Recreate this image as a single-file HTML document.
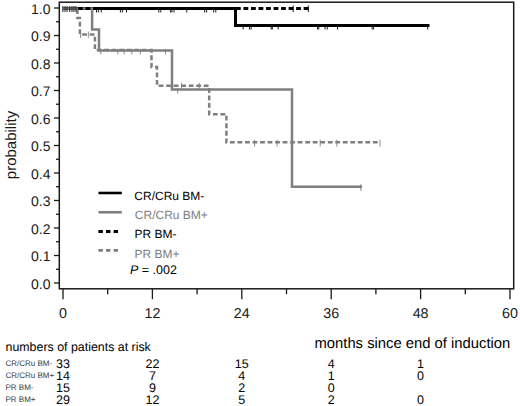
<!DOCTYPE html><html><head><meta charset="utf-8"><style>html,body{margin:0;padding:0;background:#fff;}svg{display:block;}text{font-family:"Liberation Sans",sans-serif;text-rendering:geometricPrecision;}</style></head><body>
<svg width="520" height="406" viewBox="0 0 520 406">
<rect x="59.3" y="2.2" width="454.4" height="286.6" fill="none" stroke="#1a1a1a" stroke-width="1.5"/>
<line x1="54" y1="283.00" x2="59.5" y2="283.00" stroke="#1a1a1a" stroke-width="1.3"/>
<text x="50.5" y="288.50" font-size="14" text-anchor="end" fill="#1a1a1a">0.0</text>
<line x1="54" y1="255.50" x2="59.5" y2="255.50" stroke="#1a1a1a" stroke-width="1.3"/>
<text x="50.5" y="261.00" font-size="14" text-anchor="end" fill="#1a1a1a">0.1</text>
<line x1="54" y1="228.00" x2="59.5" y2="228.00" stroke="#1a1a1a" stroke-width="1.3"/>
<text x="50.5" y="233.50" font-size="14" text-anchor="end" fill="#1a1a1a">0.2</text>
<line x1="54" y1="200.50" x2="59.5" y2="200.50" stroke="#1a1a1a" stroke-width="1.3"/>
<text x="50.5" y="206.00" font-size="14" text-anchor="end" fill="#1a1a1a">0.3</text>
<line x1="54" y1="173.00" x2="59.5" y2="173.00" stroke="#1a1a1a" stroke-width="1.3"/>
<text x="50.5" y="178.50" font-size="14" text-anchor="end" fill="#1a1a1a">0.4</text>
<line x1="54" y1="145.50" x2="59.5" y2="145.50" stroke="#1a1a1a" stroke-width="1.3"/>
<text x="50.5" y="151.00" font-size="14" text-anchor="end" fill="#1a1a1a">0.5</text>
<line x1="54" y1="118.00" x2="59.5" y2="118.00" stroke="#1a1a1a" stroke-width="1.3"/>
<text x="50.5" y="123.50" font-size="14" text-anchor="end" fill="#1a1a1a">0.6</text>
<line x1="54" y1="90.50" x2="59.5" y2="90.50" stroke="#1a1a1a" stroke-width="1.3"/>
<text x="50.5" y="96.00" font-size="14" text-anchor="end" fill="#1a1a1a">0.7</text>
<line x1="54" y1="63.00" x2="59.5" y2="63.00" stroke="#1a1a1a" stroke-width="1.3"/>
<text x="50.5" y="68.50" font-size="14" text-anchor="end" fill="#1a1a1a">0.8</text>
<line x1="54" y1="35.50" x2="59.5" y2="35.50" stroke="#1a1a1a" stroke-width="1.3"/>
<text x="50.5" y="41.00" font-size="14" text-anchor="end" fill="#1a1a1a">0.9</text>
<line x1="54" y1="8.00" x2="59.5" y2="8.00" stroke="#1a1a1a" stroke-width="1.3"/>
<text x="50.5" y="13.50" font-size="14" text-anchor="end" fill="#1a1a1a">1.0</text>
<line x1="56" y1="269.25" x2="59.5" y2="269.25" stroke="#1a1a1a" stroke-width="1.3"/>
<line x1="56" y1="241.75" x2="59.5" y2="241.75" stroke="#1a1a1a" stroke-width="1.3"/>
<line x1="56" y1="214.25" x2="59.5" y2="214.25" stroke="#1a1a1a" stroke-width="1.3"/>
<line x1="56" y1="186.75" x2="59.5" y2="186.75" stroke="#1a1a1a" stroke-width="1.3"/>
<line x1="56" y1="159.25" x2="59.5" y2="159.25" stroke="#1a1a1a" stroke-width="1.3"/>
<line x1="56" y1="131.75" x2="59.5" y2="131.75" stroke="#1a1a1a" stroke-width="1.3"/>
<line x1="56" y1="104.25" x2="59.5" y2="104.25" stroke="#1a1a1a" stroke-width="1.3"/>
<line x1="56" y1="76.75" x2="59.5" y2="76.75" stroke="#1a1a1a" stroke-width="1.3"/>
<line x1="56" y1="49.25" x2="59.5" y2="49.25" stroke="#1a1a1a" stroke-width="1.3"/>
<line x1="56" y1="21.75" x2="59.5" y2="21.75" stroke="#1a1a1a" stroke-width="1.3"/>
<line x1="63.00" y1="289" x2="63.00" y2="299.2" stroke="#1a1a1a" stroke-width="1.3"/>
<text x="63.00" y="318" font-size="14.3" text-anchor="middle" fill="#1a1a1a">0</text>
<line x1="152.40" y1="289" x2="152.40" y2="299.2" stroke="#1a1a1a" stroke-width="1.3"/>
<text x="152.40" y="318" font-size="14.3" text-anchor="middle" fill="#1a1a1a">12</text>
<line x1="241.80" y1="289" x2="241.80" y2="299.2" stroke="#1a1a1a" stroke-width="1.3"/>
<text x="241.80" y="318" font-size="14.3" text-anchor="middle" fill="#1a1a1a">24</text>
<line x1="331.20" y1="289" x2="331.20" y2="299.2" stroke="#1a1a1a" stroke-width="1.3"/>
<text x="331.20" y="318" font-size="14.3" text-anchor="middle" fill="#1a1a1a">36</text>
<line x1="420.60" y1="289" x2="420.60" y2="299.2" stroke="#1a1a1a" stroke-width="1.3"/>
<text x="420.60" y="318" font-size="14.3" text-anchor="middle" fill="#1a1a1a">48</text>
<line x1="510.00" y1="289" x2="510.00" y2="299.2" stroke="#1a1a1a" stroke-width="1.3"/>
<text x="510.00" y="318" font-size="14.3" text-anchor="middle" fill="#1a1a1a">60</text>
<line x1="107.70" y1="289" x2="107.70" y2="294.2" stroke="#1a1a1a" stroke-width="1.3"/>
<line x1="197.10" y1="289" x2="197.10" y2="294.2" stroke="#1a1a1a" stroke-width="1.3"/>
<line x1="286.50" y1="289" x2="286.50" y2="294.2" stroke="#1a1a1a" stroke-width="1.3"/>
<line x1="375.90" y1="289" x2="375.90" y2="294.2" stroke="#1a1a1a" stroke-width="1.3"/>
<line x1="465.30" y1="289" x2="465.30" y2="294.2" stroke="#1a1a1a" stroke-width="1.3"/>
<text transform="translate(15.5,145) rotate(-90)" font-size="15" text-anchor="middle" fill="#1a1a1a">probability</text>
<path d="M63,8.5 H235.5 V25.5 H429.5" fill="none" stroke="#000" stroke-width="3"/>
<path d="M63,8.5 H92.1 V29.5 H99 V50.4 H172 V89.5 H292 V186.8 H362" fill="none" stroke="#7f7f7f" stroke-width="2.5"/>
<path d="M63,8.5 H309" fill="none" stroke="#000" stroke-width="3" stroke-dasharray="4.8,2.72"/>
<path d="M63,8.5 H77.4 V18 H79.9 V34.5 H94.9 V50 H151.5 V67 H157 V85.8 H209.2 V114.3 H226.4 V142.3 H380" fill="none" stroke="#7f7f7f" stroke-width="2.5" stroke-dasharray="4.8,2.72"/>
<line x1="62.8" y1="6.0" x2="62.8" y2="12.0" stroke="#333" stroke-width="1.1"/>
<line x1="65" y1="6.0" x2="65" y2="12.0" stroke="#333" stroke-width="1.1"/>
<line x1="67" y1="6.0" x2="67" y2="12.0" stroke="#333" stroke-width="1.1"/>
<line x1="69.7" y1="6.0" x2="69.7" y2="12.0" stroke="#333" stroke-width="1.1"/>
<line x1="72" y1="6.0" x2="72" y2="12.0" stroke="#333" stroke-width="1.1"/>
<line x1="74" y1="6.0" x2="74" y2="12.0" stroke="#333" stroke-width="1.1"/>
<line x1="76" y1="6.0" x2="76" y2="12.0" stroke="#333" stroke-width="1.1"/>
<line x1="96.5" y1="7.0" x2="96.5" y2="12.5" stroke="#000" stroke-width="0.9"/>
<line x1="98.4" y1="7.0" x2="98.4" y2="12.5" stroke="#000" stroke-width="0.9"/>
<line x1="101.2" y1="7.0" x2="101.2" y2="12.5" stroke="#000" stroke-width="0.9"/>
<line x1="120.4" y1="7.0" x2="120.4" y2="12.5" stroke="#000" stroke-width="0.9"/>
<line x1="122.4" y1="7.0" x2="122.4" y2="12.5" stroke="#000" stroke-width="0.9"/>
<line x1="126.5" y1="7.0" x2="126.5" y2="12.5" stroke="#000" stroke-width="0.9"/>
<line x1="158.8" y1="7.0" x2="158.8" y2="12.5" stroke="#000" stroke-width="0.9"/>
<line x1="160.8" y1="7.0" x2="160.8" y2="12.5" stroke="#000" stroke-width="0.9"/>
<line x1="170.4" y1="7.0" x2="170.4" y2="12.5" stroke="#000" stroke-width="0.9"/>
<line x1="171.9" y1="7.0" x2="171.9" y2="12.5" stroke="#000" stroke-width="0.9"/>
<line x1="174" y1="7.0" x2="174" y2="12.5" stroke="#000" stroke-width="0.9"/>
<line x1="186.8" y1="7.0" x2="186.8" y2="12.5" stroke="#000" stroke-width="0.9"/>
<line x1="204.7" y1="7.0" x2="204.7" y2="12.5" stroke="#000" stroke-width="0.9"/>
<line x1="206.6" y1="7.0" x2="206.6" y2="12.5" stroke="#000" stroke-width="0.9"/>
<line x1="213.7" y1="7.0" x2="213.7" y2="12.5" stroke="#000" stroke-width="0.9"/>
<line x1="215.8" y1="7.0" x2="215.8" y2="12.5" stroke="#000" stroke-width="0.9"/>
<line x1="293.2" y1="5.5" x2="293.2" y2="12.0" stroke="#000" stroke-width="0.9"/>
<line x1="308.3" y1="5.5" x2="308.3" y2="12.0" stroke="#000" stroke-width="0.9"/>
<line x1="243.1" y1="24.0" x2="243.1" y2="29.5" stroke="#000" stroke-width="0.9"/>
<line x1="249.5" y1="24.0" x2="249.5" y2="29.5" stroke="#000" stroke-width="0.9"/>
<line x1="251.1" y1="24.0" x2="251.1" y2="29.5" stroke="#000" stroke-width="0.9"/>
<line x1="271.2" y1="24.0" x2="271.2" y2="29.5" stroke="#000" stroke-width="0.9"/>
<line x1="272.3" y1="24.0" x2="272.3" y2="29.5" stroke="#000" stroke-width="0.9"/>
<line x1="278.2" y1="24.0" x2="278.2" y2="29.5" stroke="#000" stroke-width="0.9"/>
<line x1="317.5" y1="24.0" x2="317.5" y2="29.5" stroke="#000" stroke-width="0.9"/>
<line x1="318.8" y1="24.0" x2="318.8" y2="29.5" stroke="#000" stroke-width="0.9"/>
<line x1="325.1" y1="24.0" x2="325.1" y2="29.5" stroke="#000" stroke-width="0.9"/>
<line x1="327.3" y1="24.0" x2="327.3" y2="29.5" stroke="#000" stroke-width="0.9"/>
<line x1="337.5" y1="24.0" x2="337.5" y2="29.5" stroke="#000" stroke-width="0.9"/>
<line x1="372.1" y1="24.0" x2="372.1" y2="29.5" stroke="#000" stroke-width="0.9"/>
<line x1="373.6" y1="24.0" x2="373.6" y2="29.5" stroke="#000" stroke-width="0.9"/>
<line x1="427.7" y1="24.0" x2="427.7" y2="29.5" stroke="#000" stroke-width="0.9"/>
<line x1="100.8" y1="48.9" x2="100.8" y2="54.4" stroke="#7f7f7f" stroke-width="0.9"/>
<line x1="117.8" y1="48.9" x2="117.8" y2="54.4" stroke="#7f7f7f" stroke-width="0.9"/>
<line x1="124.2" y1="48.9" x2="124.2" y2="54.4" stroke="#7f7f7f" stroke-width="0.9"/>
<line x1="131.9" y1="48.9" x2="131.9" y2="54.4" stroke="#7f7f7f" stroke-width="0.9"/>
<line x1="140.4" y1="48.9" x2="140.4" y2="54.4" stroke="#7f7f7f" stroke-width="0.9"/>
<line x1="165.5" y1="48.9" x2="165.5" y2="54.4" stroke="#7f7f7f" stroke-width="0.9"/>
<line x1="80.6" y1="31.5" x2="80.6" y2="38.0" stroke="#7f7f7f" stroke-width="0.9"/>
<line x1="88.3" y1="31.5" x2="88.3" y2="38.0" stroke="#7f7f7f" stroke-width="0.9"/>
<line x1="171.5" y1="82.8" x2="171.5" y2="88.8" stroke="#7f7f7f" stroke-width="0.9"/>
<line x1="181.5" y1="82.8" x2="181.5" y2="88.8" stroke="#7f7f7f" stroke-width="0.9"/>
<line x1="199.2" y1="82.8" x2="199.2" y2="88.8" stroke="#7f7f7f" stroke-width="0.9"/>
<line x1="177.7" y1="88.0" x2="177.7" y2="93.5" stroke="#7f7f7f" stroke-width="0.9"/>
<line x1="209.2" y1="88.0" x2="209.2" y2="93.5" stroke="#7f7f7f" stroke-width="0.9"/>
<line x1="254.6" y1="139.70000000000002" x2="254.6" y2="146.5" stroke="#7f7f7f" stroke-width="0.9"/>
<line x1="277.1" y1="139.70000000000002" x2="277.1" y2="146.5" stroke="#7f7f7f" stroke-width="0.9"/>
<line x1="320.2" y1="139.70000000000002" x2="320.2" y2="146.5" stroke="#7f7f7f" stroke-width="0.9"/>
<line x1="336.8" y1="139.70000000000002" x2="336.8" y2="146.5" stroke="#7f7f7f" stroke-width="0.9"/>
<line x1="380" y1="139.70000000000002" x2="380" y2="146.5" stroke="#7f7f7f" stroke-width="0.9"/>
<line x1="360.8" y1="184.20000000000002" x2="360.8" y2="190.8" stroke="#7f7f7f" stroke-width="0.9"/>
<line x1="98.5" y1="193" x2="121.8" y2="193" stroke="#000" stroke-width="2.6"/>
<line x1="98.5" y1="212.25" x2="121.8" y2="212.25" stroke="#7f7f7f" stroke-width="2.6"/>
<line x1="98.4" y1="231.5" x2="118" y2="231.5" stroke="#000" stroke-width="2.9" stroke-dasharray="4.5,3.1"/>
<line x1="98.4" y1="250.4" x2="118" y2="250.4" stroke="#7f7f7f" stroke-width="2.8" stroke-dasharray="4.5,3.1"/>
<text x="134.3" y="200" font-size="12" fill="#000">CR/CRu BM-</text>
<text x="134.8" y="219" font-size="12" fill="#7f7f7f">CR/CRu BM+</text>
<text x="134.6" y="238.3" font-size="12" fill="#000">PR BM-</text>
<text x="134.6" y="257.5" font-size="12" fill="#7f7f7f">PR BM+</text>
<text x="130" y="273.7" font-size="12.5" fill="#000"><tspan font-style="italic">P</tspan> = .002</text>
<text x="5.5" y="351.3" font-size="12.4" fill="#000">numbers of patients at risk</text>
<text x="314.5" y="348.3" font-size="14.8" fill="#000">months since end of induction</text>
<text x="5.5" y="365.80" font-size="8" fill="#3a3a3a">CR/CRu BM-</text>
<text x="63.00" y="368.30" font-size="12.5" text-anchor="middle" fill="#000">33</text>
<text x="152.40" y="368.30" font-size="12.5" text-anchor="middle" fill="#000">22</text>
<text x="241.80" y="368.30" font-size="12.5" text-anchor="middle" fill="#000">15</text>
<text x="331.20" y="368.30" font-size="12.5" text-anchor="middle" fill="#000">4</text>
<text x="420.60" y="368.30" font-size="12.5" text-anchor="middle" fill="#000">1</text>
<text x="5.5" y="377.87" font-size="8" fill="#3a3a3a">CR/CRu BM+</text>
<text x="63.00" y="380.33" font-size="12.5" text-anchor="middle" fill="#000">14</text>
<text x="152.40" y="380.33" font-size="12.5" text-anchor="middle" fill="#000">7</text>
<text x="241.80" y="380.33" font-size="12.5" text-anchor="middle" fill="#000">4</text>
<text x="331.20" y="380.33" font-size="12.5" text-anchor="middle" fill="#000">1</text>
<text x="420.60" y="380.33" font-size="12.5" text-anchor="middle" fill="#000">0</text>
<text x="5.5" y="389.94" font-size="8" fill="#3a3a3a">PR BM-</text>
<text x="63.00" y="392.36" font-size="12.5" text-anchor="middle" fill="#000">15</text>
<text x="152.40" y="392.36" font-size="12.5" text-anchor="middle" fill="#000">9</text>
<text x="241.80" y="392.36" font-size="12.5" text-anchor="middle" fill="#000">2</text>
<text x="331.20" y="392.36" font-size="12.5" text-anchor="middle" fill="#000">0</text>
<text x="5.5" y="402.01" font-size="8" fill="#3a3a3a">PR BM+</text>
<text x="63.00" y="404.39" font-size="12.5" text-anchor="middle" fill="#000">29</text>
<text x="152.40" y="404.39" font-size="12.5" text-anchor="middle" fill="#000">12</text>
<text x="241.80" y="404.39" font-size="12.5" text-anchor="middle" fill="#000">5</text>
<text x="331.20" y="404.39" font-size="12.5" text-anchor="middle" fill="#000">2</text>
<text x="420.60" y="404.39" font-size="12.5" text-anchor="middle" fill="#000">0</text>
</svg></body></html>
